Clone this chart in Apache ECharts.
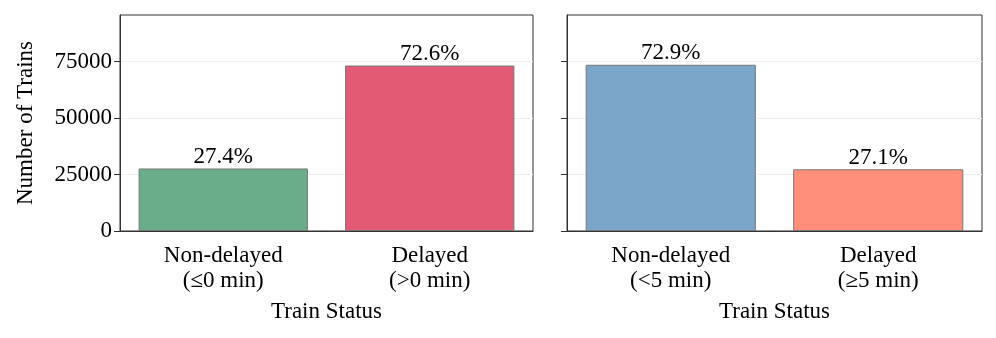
<!DOCTYPE html>
<html>
<head>
<meta charset="utf-8">
<script src="https://cdn.jsdelivr.net/npm/echarts@6/dist/echarts.min.js"></script>
<style>
  html, body { margin: 0; padding: 0; background: #fff; }
  #chart { width: 996px; height: 338px; }
</style>
</head>
<body>
<div id="chart"></div>
<script>
// data
var leftCategories = ['Non-delayed\n(\u22640 min)', 'Delayed\n(>0 min)'];
var leftCounts = [27700, 73300];
var leftPercents = ['27.4%', '72.6%'];
var leftColors = ['#6aad8a', '#e35a75'];

var rightCategories = ['Non-delayed\n(<5 min)', 'Delayed\n(\u22655 min)'];
var rightCounts = [73650, 27350];
var rightPercents = ['72.9%', '27.1%'];
var rightColors = ['#7ba6ca', '#ff8f7b'];

var yMax = 95700;
var yTickValues = [0, 25000, 50000, 75000];

var font = 'Liberation Serif';
var fs = 23;

function barData(values, colors) {
	return values.map(function (v, i) {
		return { value: v, itemStyle: { color: colors[i] } };
	});
}

function makeX(idx, cats) {
	return {
		type: 'category',
		gridIndex: idx,
		data: cats,
		name: 'Train Status',
		nameLocation: 'middle',
		nameGap: 69,
		nameTextStyle: { fontFamily: font, fontSize: fs, color: '#000' },
		axisLine: { lineStyle: { color: '#333', width: 1 } },
		axisTick: { alignWithLabel: true, length: 5, lineStyle: { color: '#333' } },
		axisLabel: { fontFamily: font, fontSize: fs, color: '#000', lineHeight: 25, margin: 12 },
	};
}

function makeY(idx, showLabels) {
	return {
		type: 'value',
		gridIndex: idx,
		min: 0,
		max: yMax,
		name: showLabels ? 'Number of Trains' : '',
		nameLocation: 'middle',
		nameGap: 83,
		nameTextStyle: { fontFamily: font, fontSize: fs, color: '#000' },
		axisLine: { show: true, lineStyle: { color: '#333', width: 1 } },
		axisTick: { show: true, length: 6, customValues: yTickValues, lineStyle: { color: '#333' } },
		axisLabel: {
			show: showLabels,
			customValues: yTickValues,
			fontFamily: font,
			fontSize: fs,
			color: '#000',
			margin: 8,
			formatter: function (v) { return String(v); },
		},
		splitLine: { show: true, lineStyle: { color: '#efefef', width: 1 } },
	};
}

function makeSeries(idx, values, colors, pcts) {
	return {
		type: 'bar',
		xAxisIndex: idx,
		yAxisIndex: idx,
		data: barData(values, colors),
		barCategoryGap: '18%',
		itemStyle: { borderColor: '#777', borderWidth: 1 },
		label: {
			show: true,
			position: 'top',
			distance: 0,
			fontFamily: font,
			fontSize: fs,
			color: '#000',
			formatter: function (p) { return pcts[p.dataIndex]; },
		},
	};
}

var myChart = echarts.init(document.getElementById('chart'), null, { renderer: 'canvas' });
var option = {
	animation: false,
	backgroundColor: '#fff',
	grid: [
		{ left: 120, right: 463, top: 15, bottom: 107, show: true, borderColor: '#333', borderWidth: 1 },
		{ left: 567, right: 14, top: 15, bottom: 107, show: true, borderColor: '#333', borderWidth: 1 },
	],
	xAxis: [makeX(0, leftCategories), makeX(1, rightCategories)],
	yAxis: [makeY(0, true), makeY(1, false)],
	series: [
		makeSeries(0, leftCounts, leftColors, leftPercents),
		makeSeries(1, rightCounts, rightColors, rightPercents),
	],
};
myChart.setOption(option);
</script>
</body>
</html>
